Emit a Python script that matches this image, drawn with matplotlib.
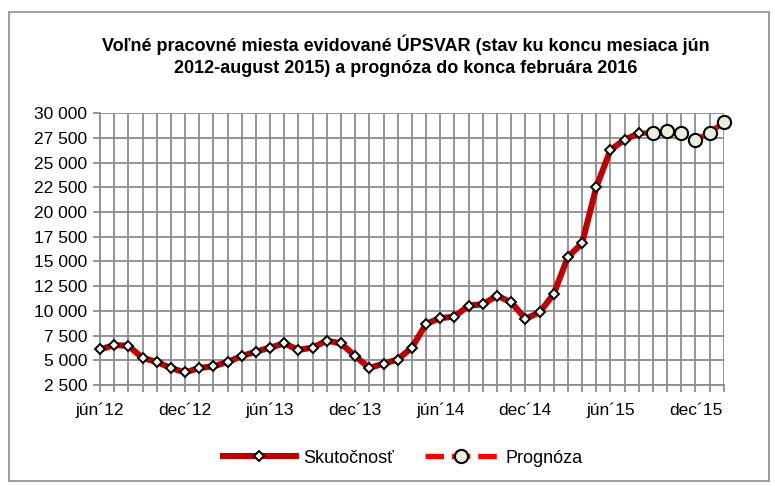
import matplotlib
matplotlib.use('Agg')
import matplotlib.pyplot as plt
from matplotlib.patches import Rectangle
from matplotlib.lines import Line2D

plt.rcParams['font.family'] = ['Liberation Sans Narrow', 'Liberation Sans', 'DejaVu Sans']

# mesiace jún 2012 - február 2016
tick_labels = ['jún´12', 'dec´12', 'jún´13', 'dec´13', 'jún´14', 'dec´14', 'jún´15', 'dec´15']

# skutočnosť: jún 2012 - august 2015
skutocnost = [6100, 6530, 6460, 5240, 4830, 4210, 3770, 4210, 4380, 4830,
              5420, 5870, 6280, 6700, 6040, 6280, 6980, 6700, 5420, 4210,
              4660, 5070, 6280, 8690, 9260, 9420, 10520, 10660, 11530, 10870,
              9200, 9840, 11700, 15450, 16840, 22500, 26280, 27330, 27950]

# prognóza: september 2015 - február 2016
prognoza = [28050, 28220, 28050, 27260, 28050, 29080]

y_ticks = list(range(2500, 30001, 2500))

n_skut = len(skutocnost)
n_all = n_skut + len(prognoza)
x_skut = list(range(n_skut))
# prognóza nadväzuje na posledný skutočný mesiac
x_prog = list(range(n_skut - 1, n_all))
y_prog = [skutocnost[-1]] + prognoza

fig = plt.figure(figsize=(7.75, 4.86), dpi=100)
ax = fig.add_axes([0.129, 0.208, 0.805, 0.559])

grid_c = '#8c8c8c'

ax.plot(x_prog, y_prog, color='#ff0000', lw=3.8, dashes=(3.5, 1.5),
        marker='o', markersize=9.5, markerfacecolor='#ececdc',
        markeredgecolor='black', markeredgewidth=1.5,
        markevery=list(range(1, len(y_prog))), zorder=3, clip_on=False)
ax.plot(x_skut, skutocnost, color='#c00000', lw=4.4,
        marker='D', markersize=5.5, markerfacecolor='#f4f4e8',
        markeredgecolor='black', markeredgewidth=1.4, zorder=4, clip_on=False)

ax.set_xlim(0, n_all - 1)
ax.set_ylim(2500, 30000)
ax.set_yticks(y_ticks)
ax.set_yticklabels([f'{v:,}'.replace(',', ' ') for v in y_ticks], fontsize=12.5)
ax.set_xticks(range(n_all))
ax.set_xticklabels([tick_labels[i // 6] if i % 6 == 0 else '' for i in range(n_all)],
                   fontsize=12.5)

ax.grid(True, color=grid_c, lw=1.3)
ax.set_axisbelow(True)
ax.tick_params(axis='both', color=grid_c, width=1.3, length=5, pad=4)
ax.tick_params(axis='x', pad=8)
for side in ['top', 'right']:
    ax.spines[side].set_visible(False)
for side in ['left', 'bottom']:
    ax.spines[side].set_color(grid_c)
    ax.spines[side].set_linewidth(1.3)

fig.text(0.523, 0.908, 'Voľné pracovné miesta evidované ÚPSVAR (stav ku koncu mesiaca jún',
         ha='center', va='center', fontsize=13, fontweight='bold')
fig.text(0.523, 0.859, '2012-august 2015) a prognóza do konca februára 2016',
         ha='center', va='center', fontsize=13, fontweight='bold')

h1 = Line2D([], [], color='#c00000', lw=4.4, marker='D', markersize=5.5,
            markerfacecolor='#f4f4e8', markeredgecolor='black', markeredgewidth=1.4)
h2 = Line2D([], [], color='#ff0000', lw=3.8, dashes=(3.5, 1.5), marker='o',
            markersize=9.5, markerfacecolor='#ececdc', markeredgecolor='black',
            markeredgewidth=1.5)
fig.legend([h1, h2], ['Skutočnosť', 'Prognóza'], loc='center',
           bbox_to_anchor=(0.52, 0.057), ncol=2, frameon=False, fontsize=13,
           handlelength=4.0, columnspacing=1.7, handletextpad=0.45)

fig.patches.append(Rectangle((0.011, 0.01), 0.981, 0.965, transform=fig.transFigure,
                             fill=False, edgecolor='#8c8c8c', lw=1.2))

fig.savefig('out.png', dpi=100)
